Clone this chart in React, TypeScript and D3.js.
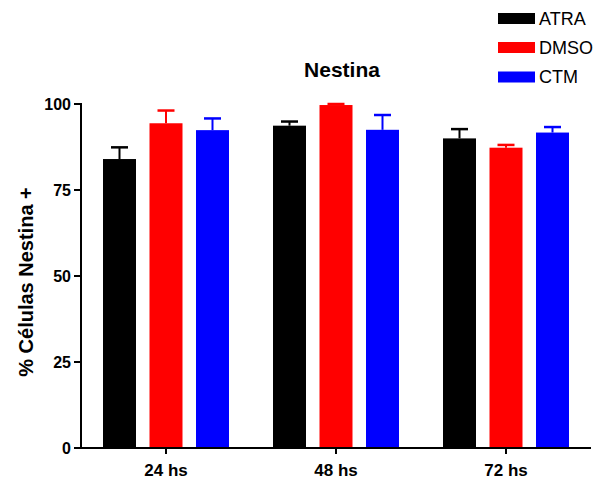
import React from "react";
import * as d3 from "d3";

const categories = ["24 hs", "48 hs", "72 hs"];
const seriesNames = ["ATRA", "DMSO", "CTM"];
const seriesColors = ["#000000", "#ff0000", "#0000ff"];
const atraValues = [84.0, 93.7, 90.0];
const dmsoValues = [94.4, 99.7, 87.3];
const ctmValues = [92.4, 92.5, 91.7];
const atraErr = [3.4, 1.2, 2.7];
const dmsoErr = [3.7, 0.3, 0.8];
const ctmErr = [3.4, 4.3, 1.6];
const yTicks = [0, 25, 50, 75, 100];

const W = 595;
const H = 481;
const margin = { left: 81, right: 4, top: 104, bottom: 33 };
const FONT = "'Liberation Sans', Arial, sans-serif";

export default function App() {
  const values = [atraValues, dmsoValues, ctmValues];
  const errs = [atraErr, dmsoErr, ctmErr];
  const x0 = d3.scaleBand<string>().domain(categories).range([margin.left, W - margin.right]);
  const y = d3.scaleLinear().domain([0, 100]).range([H - margin.bottom, margin.top]);
  const y0 = y(0);
  const barW = 33;
  const step = 46.5;
  const capW = 17;
  const legendBase = [24.5, 53.5, 83];

  return (
    <svg width={W} height={H} style={{ position: "absolute", left: 0, top: 0, background: "#fff" }}>
      <rect x={0} y={0} width={W} height={H} fill="#fff" />
      {/* title */}
      <text x={342} y={76.5} textAnchor="middle" fontFamily={FONT} fontWeight="bold" fontSize={21}>
        Nestina
      </text>
      {/* bars */}
      {categories.map((c, ci) => {
        const cx = (x0(c) as number) + x0.bandwidth() / 2;
        return seriesNames.map((s, si) => {
          const v = values[si][ci];
          const e = errs[si][ci];
          const bx = cx + (si - 1) * step - barW / 2;
          const bc = cx + (si - 1) * step;
          return (
            <g key={c + s}>
              <line x1={bc} x2={bc} y1={y(v)} y2={y(v + e)} stroke={seriesColors[si]} strokeWidth={2} />
              <line x1={bc - capW / 2} x2={bc + capW / 2} y1={y(v + e)} y2={y(v + e)} stroke={seriesColors[si]} strokeWidth={2.5} />
              <rect x={bx} y={y(v)} width={barW} height={y0 - y(v)} fill={seriesColors[si]} />
            </g>
          );
        });
      })}
      {/* y axis */}
      <line x1={margin.left} x2={margin.left} y1={y(100) - 1} y2={y0 + 1} stroke="#000" strokeWidth={2} />
      {yTicks.map((t) => (
        <g key={t}>
          <line x1={margin.left - 7} x2={margin.left} y1={y(t)} y2={y(t)} stroke="#000" strokeWidth={2} />
          <text x={margin.left - 10} y={y(t)} dy="0.36em" textAnchor="end" fontFamily={FONT} fontWeight="bold" fontSize={16}>
            {t}
          </text>
        </g>
      ))}
      {/* x axis */}
      <line x1={margin.left - 1} x2={W - margin.right} y1={y0} y2={y0} stroke="#000" strokeWidth={2} />
      {categories.map((c) => {
        const cx = (x0(c) as number) + x0.bandwidth() / 2;
        return (
          <g key={c}>
            <line x1={cx} x2={cx} y1={y0} y2={y0 + 6} stroke="#000" strokeWidth={2} />
            <text x={cx} y={y0 + 28} textAnchor="middle" fontFamily={FONT} fontWeight="bold" fontSize={17}>
              {c}
            </text>
          </g>
        );
      })}
      {/* y label */}
      <text
        transform={`translate(33, ${(y(0) + y(100)) / 2 + 6}) rotate(-90)`}
        textAnchor="middle"
        fontFamily={FONT}
        fontWeight="bold"
        fontSize={20}
      >
        % Células Nestina +
      </text>
      {/* legend */}
      {seriesNames.map((s, i) => {
        const b = legendBase[i];
        return (
          <g key={s}>
            <rect x={498} y={b - 11.5} width={37} height={11} fill={seriesColors[i]} />
            <text x={539} y={b} fontFamily={FONT} fontSize={18}>
              {s}
            </text>
          </g>
        );
      })}
    </svg>
  );
}
